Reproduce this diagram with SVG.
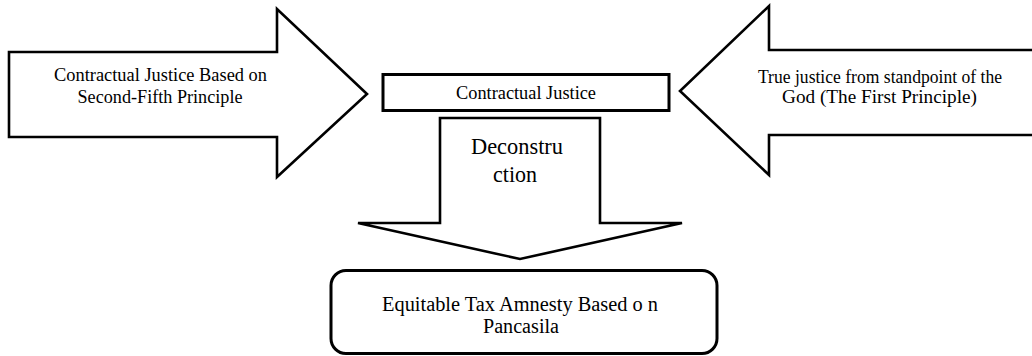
<svg xmlns="http://www.w3.org/2000/svg" width="1032" height="356" viewBox="0 0 1032 356">
  <style>
    .shape { fill: #ffffff; stroke: #000000; stroke-width: 2.6; stroke-linejoin: miter; }
    .box { fill: #ffffff; stroke: #000000; stroke-width: 3; }
    .t { font-family: "Liberation Serif", "Times New Roman", serif; fill: #000000; text-anchor: middle; }
    .s18 { font-size: 18px; }
    .s20 { font-size: 20px; }
    .s23 { font-size: 23px; }
  </style>
  <rect x="0" y="0" width="1032" height="356" fill="#ffffff"/>

  <g id="node-left-arrow">
    <polygon class="shape" points="9,52 277,52 277,9 367,94 277,177 277,137 9,137"/>
    <text class="t s18" x="160.5" y="81" textLength="213" lengthAdjust="spacingAndGlyphs">Contractual Justice Based on</text>
    <text class="t s18" x="160" y="103" textLength="165" lengthAdjust="spacingAndGlyphs">Second-Fifth Principle</text>
  </g>

  <g id="node-right-arrow">
    <polygon class="shape" points="1036,50 769,50 769,6 680,91 769,175 769,135 1036,135"/>
    <text class="t s18" x="880" y="83" textLength="244" lengthAdjust="spacingAndGlyphs">True justice from standpoint of the</text>
    <text class="t s18" x="879.5" y="103" textLength="195" lengthAdjust="spacingAndGlyphs">God (The First Principle)</text>
  </g>

  <g id="node-contractual-justice">
    <rect class="box" x="383" y="74.5" width="286" height="36"/>
    <text class="t s18" x="526" y="99" textLength="140" lengthAdjust="spacingAndGlyphs">Contractual Justice</text>
  </g>

  <g id="node-deconstruction">
    <polygon class="shape" points="440,118 600,118 600,223 682,223 520,259 358,223 440,223"/>
    <text class="t s23" x="517" y="154" textLength="92" lengthAdjust="spacingAndGlyphs">Deconstru</text>
    <text class="t s23" x="515" y="182" textLength="44" lengthAdjust="spacingAndGlyphs">ction</text>
  </g>

  <g id="node-equitable-tax-amnesty">
    <rect class="box" x="331" y="270.5" width="386" height="83" rx="15" ry="15"/>
    <text class="t s20" x="520" y="311" textLength="276" lengthAdjust="spacingAndGlyphs">Equitable Tax Amnesty Based o n</text>
    <text class="t s20" x="521" y="333" textLength="76" lengthAdjust="spacingAndGlyphs">Pancasila</text>
  </g>

  <g id="connectors"></g>
</svg>
